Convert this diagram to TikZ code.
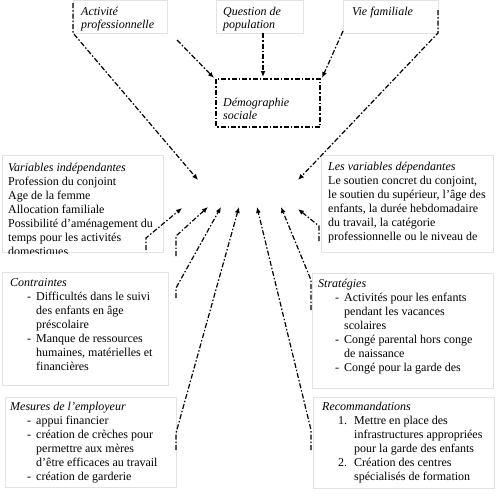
\documentclass[tikz,border=0pt]{standalone}
\usepackage{fontspec}
\setmainfont{Liberation Serif}
\usetikzlibrary{arrows.meta}
\begin{document}
\begin{tikzpicture}[x=1pt,y=-1pt,
  faint/.style={draw=black!11,line width=0.8pt},
  demobox/.style={draw=black,line width=1.2pt,dash pattern=on 5pt off 2pt on 1.5pt off 2pt},
  body/.style={anchor=north west,inner sep=0pt,align=left,font=\fontsize{12}{14}\selectfont},
  toptxt/.style={anchor=north west,inner sep=0pt,align=left,font=\fontsize{12}{13}\selectfont\itshape},
  conn/.style={line width=1.2pt,dash pattern=on 5pt off 2pt on 1.5pt off 2pt,-{Latex[length=6pt,width=5pt]}}]
\useasboundingbox[fill=white] (0,0) rectangle (496,496);
\newcommand{\dashitem}[1]{\makebox[26pt][l]{\hspace*{17pt}-}#1}
\newcommand{\contline}[1]{\hspace*{26pt}#1}
% faint box outlines
\draw[faint] (73,0) rectangle (167,33);
\draw[faint] (216,0) rectangle (303,33);
\draw[faint] (343,0) rectangle (438,33);
\draw[faint] (2,155) rectangle (163,252);
\draw[faint] (321,155) rectangle (493,252);
\draw[faint] (2,272) rectangle (168,385);
\draw[faint] (312,273) rectangle (493,388);
\draw[faint] (5,397) rectangle (176,487);
\draw[faint] (313,397) rectangle (494,488);
% top texts
\node[toptxt] (act) at (81,6.7) {Activité\\professionnelle};
\node[toptxt] (ques) at (223,6.7) {Question de\\population};
\node[toptxt] (vie) at (352,6.7) {Vie familiale};
\draw[demobox] (216,79) rectangle (320,127);
\node[toptxt] (demo) at (223,97.7) {Démographie\\sociale};
% middle texts
\begin{scope}
\clip (0,150) rectangle (170,253);
\node[body] (var) at (8,162.7) {\textit{Variables indépendantes}\\Profession du conjoint\\Age de la femme\\Allocation familiale\\Possibilité d’aménagement du\\temps pour les activités\\domestiques};
\end{scope}
\node[body] (dep) at (328,161.7) {\textit{Les variables dépendantes}\\Le soutien concret du conjoint,\\le soutien du supérieur, l’âge des\\enfants, la durée hebdomadaire\\du travail, la catégorie\\professionnelle ou le niveau de};
\node[body] (con) at (10,278.7) {\textit{Contraintes}\\\dashitem{Difficultés dans le suivi}\\\contline{des enfants en âge}\\\contline{préscolaire}\\\dashitem{Manque de ressources}\\\contline{humaines, matérielles et}\\\contline{financières}};
\node[body] (str) at (318,278.7) {\textit{Stratégies}\\\dashitem{Activités pour les enfants}\\\contline{pendant les vacances}\\\contline{scolaires}\\\dashitem{Congé parental hors conge}\\\contline{de naissance}\\\dashitem{Congé pour la garde des}};
\node[body] (mes) at (10,401.7) {\textit{Mesures de l’employeur}\\\dashitem{appui financier}\\\dashitem{création de crèches pour}\\\contline{permettre aux mères}\\\contline{d’être efficaces au travail}\\\dashitem{création de garderie}};
\node[body] (rec) at (322,401.7) {\textit{Recommandations}\\\makebox[32pt][l]{\hspace*{16pt}1.}Mettre en place des\\\hspace*{32pt}infrastructures appropriées\\\hspace*{32pt}pour la garde des enfants\\\makebox[32pt][l]{\hspace*{16pt}2.}Création des centres\\\hspace*{32pt}spécialisés de formation};
% coordinates
\coordinate (a0) at (73,3);   \coordinate (a1) at (73,33);   \coordinate (a2) at (198,180);
\coordinate (b0) at (438,10); \coordinate (b1) at (438,33);  \coordinate (b2) at (298,180);
\coordinate (c0) at (177,40); \coordinate (c1) at (214,78);
\coordinate (d0) at (263,33); \coordinate (d1) at (263,77);
\coordinate (e0) at (343,31); \coordinate (e1) at (322,78);
\coordinate (f0) at (146,250); \coordinate (f1) at (146,238); \coordinate (f2) at (182,208);
\coordinate (g0) at (176,256); \coordinate (g1) at (176,236); \coordinate (g2) at (208,207);
\coordinate (h0) at (176,298); \coordinate (h1) at (176,288); \coordinate (h2) at (221,207);
\coordinate (i0) at (176,450); \coordinate (i1) at (176,433); \coordinate (i2) at (239,207);
\coordinate (j0) at (319,241); \coordinate (j1) at (319,226); \coordinate (j2) at (298,209);
\coordinate (k0) at (311,310); \coordinate (k1) at (311,280); \coordinate (k2) at (281,207);
\coordinate (l0) at (311,450); \coordinate (l1) at (311,430); \coordinate (l2) at (257,207);
% connectors
\draw[conn] (a0) -- (a1) -- (a2);
\draw[conn] (b0) -- (b1) -- (b2);
\draw[conn] (c0) -- (c1);
\draw[conn] (d0) -- (d1);
\draw[conn] (e0) -- (e1);
\draw[conn] (f0) -- (f1) -- (f2);
\draw[conn] (g0) -- (g1) -- (g2);
\draw[conn] (h0) -- (h1) -- (h2);
\draw[conn] (i0) -- (i1) -- (i2);
\draw[conn] (j0) -- (j1) -- (j2);
\draw[conn] (k0) -- (k1) -- (k2);
\draw[conn] (l0) -- (l1) -- (l2);
\end{tikzpicture}
\end{document}
